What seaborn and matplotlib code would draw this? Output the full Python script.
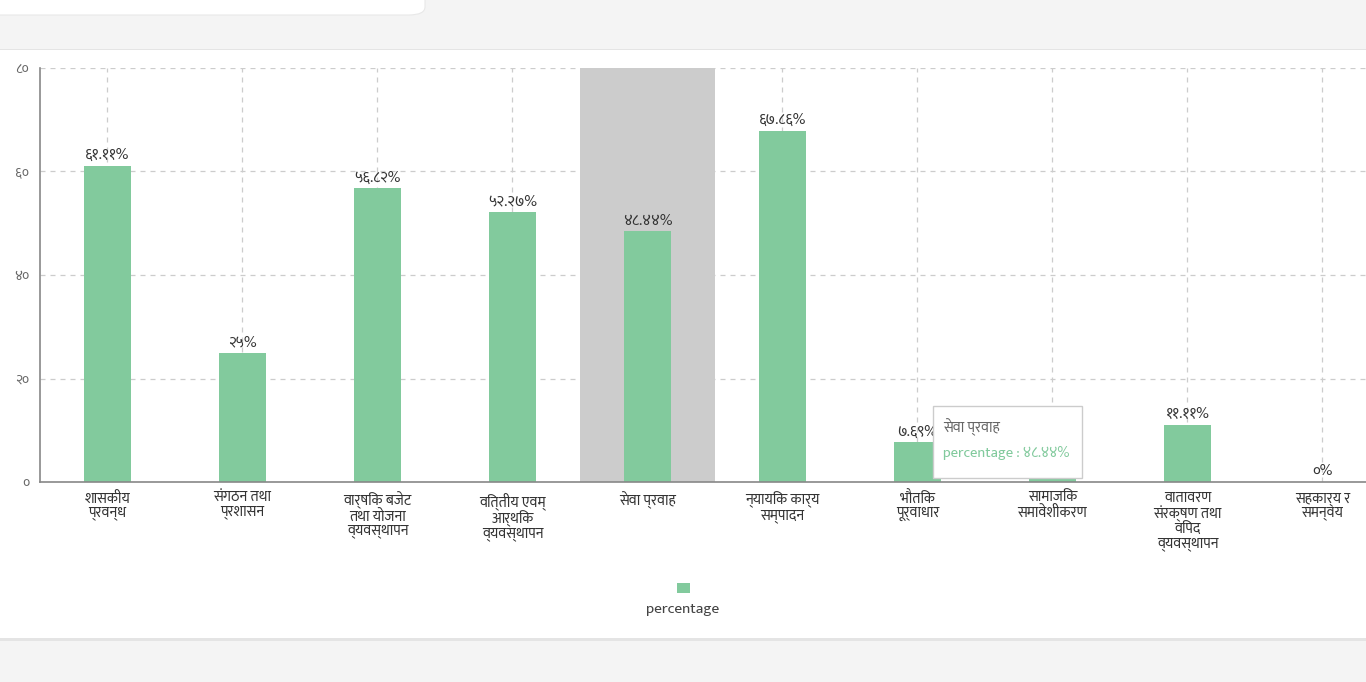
import matplotlib
matplotlib.use("Agg")
import matplotlib.pyplot as plt
from matplotlib import font_manager as fm
from matplotlib.patches import Rectangle, FancyBboxPatch
import seaborn as sns
import pandas as pd

# डाटा
categories = [
    "शासकीय प्रवन्ध", "संगठन तथा प्रशासन", "वार्षिक बजेट तथा योजना व्यवस्थापन",
    "वित्तीय एवम् आर्थिक व्यवस्थापन", "सेवा प्रवाह", "न्यायिक कार्य सम्पादन",
    "भौतिक पूर्वाधार", "सामाजिक समावेशीकरण", "वातावरण संरक्षण तथा विपद व्यवस्थापन",
    "सहकार्य र समन्वय",
]
tick_labels = [
    "शासकीय\nप्रवन्ध", "संगठन तथा\nप्रशासन", "वार्षिक बजेट\nतथा योजना\nव्यवस्थापन",
    "वित्तीय एवम्\nआर्थिक\nव्यवस्थापन", "सेवा प्रवाह", "न्यायिक कार्य\nसम्पादन",
    "भौतिक\nपूर्वाधार", "सामाजिक\nसमावेशीकरण", "वातावरण\nसंरक्षण तथा\nविपद\nव्यवस्थापन",
    "सहकार्य र\nसमन्वय",
]
percentage = [61.11, 25, 56.82, 52.27, 48.44, 67.86, 7.69, 0.6, 11.11, 0]
y_ticks = [0, 20, 40, 60, 80]
active = "सेवा प्रवाह"

df = pd.DataFrame({"category": categories, "percentage": percentage})

DEV = str.maketrans("0123456789", "०१२३४५६७८९")
def dev(v):
    return f"{v:g}".translate(DEV)

sns.set_theme(style="white")
installed = {f.name for f in fm.fontManager.ttflist}
fams = [f for f in ["Mukta", "Hind", "Noto Sans Devanagari", "Poppins"] if f in installed][:1]
plt.rcParams["font.family"] = fams + ["Open Sans", "DejaVu Sans"]

W, H = 1366, 682
fig = plt.figure(figsize=(W / 100, H / 100), dpi=100, facecolor="#f4f4f4")

# पृष्ठभूमि कार्डहरू
fig.patches.append(Rectangle((0, (H - 641) / H), 1, 592 / H, transform=fig.transFigure,
                             facecolor="#e4e4e4", edgecolor="none", zorder=-3))
fig.patches.append(Rectangle((0, (H - 638) / H), 1, 588 / H, transform=fig.transFigure,
                             facecolor="white", edgecolor="none", zorder=-2))
fig.patches.append(FancyBboxPatch((-20 / W, (H - 15) / H), 445 / W, 40 / H,
                                  boxstyle="round,pad=0,rounding_size=0.012",
                                  transform=fig.transFigure, facecolor="white",
                                  edgecolor="#e8e8e8", lw=0.8, zorder=-2))

x0, x1, ytop, ybot = 40, 1390, 68, 482
ax = fig.add_axes([x0 / W, (H - ybot) / H, (x1 - x0) / W, (ybot - ytop) / H])
ax.set_zorder(1)
ax.set_facecolor("none")

# कर्सर हाइलाइट
ai = categories.index(active)
ax.axvspan(ai - 0.5, ai + 0.5, color="#cccccc", zorder=1, lw=0)

sns.barplot(data=df, x="category", y="percentage", color="#82ca9d", saturation=1,
            width=0.35, ax=ax, zorder=2, edgecolor="none")

for i, v in enumerate(percentage):
    ax.text(i, v + 0.7, dev(v) + "%", ha="center", va="bottom", fontsize=11,
            color="#333333", zorder=3)

ax.set_xlim(-0.5, len(categories) - 0.5)
ax.set_ylim(0, 80)
ax.set_yticks(y_ticks)
ax.set_yticklabels([dev(t) for t in y_ticks], color="#666666", fontsize=10)
ax.set_xticks(range(len(categories)))
ax.set_xticklabels(tick_labels, color="#333333", fontsize=10.5, linespacing=1.05)
ax.set_xlabel("")
ax.set_ylabel("")

ax.grid(True, linestyle=(0, (4, 4)), color="#cccccc", lw=0.9, zorder=0)
ax.set_axisbelow(True)
for s in ["top", "right"]:
    ax.spines[s].set_visible(False)
for s in ["left", "bottom"]:
    ax.spines[s].set_color("#888888")
    ax.spines[s].set_linewidth(1.2)
ax.tick_params(axis="both", length=5, width=1, color="#888888", pad=2)
ax.tick_params(axis="y", pad=3)

# टूलटिप
tx, ty, tw, th = 933, 406, 149, 72
fig.patches.append(Rectangle((tx / W, (H - ty - th) / H), tw / W, th / H,
                             transform=fig.transFigure, facecolor="white",
                             edgecolor="#cccccc", lw=1, zorder=5))
fig.text((tx + 10) / W, (H - 427) / H, active, fontsize=10.5, color="#666666",
         va="center", zorder=6)
fig.text((tx + 10) / W, (H - 453) / H, "percentage : " + dev(percentage[ai]) + "%",
         fontsize=10.5, color="#82ca9d", va="center", zorder=6)

# लेजेन्ड
fig.patches.append(Rectangle((677 / W, (H - 593) / H), 13 / W, 10 / H,
                             transform=fig.transFigure, facecolor="#82ca9d",
                             edgecolor="none", zorder=5))
fig.text(683 / W, (H - 609) / H, "percentage", ha="center", va="center",
         fontsize=11, color="#444444")

fig.savefig("out.png", dpi=100, facecolor=fig.get_facecolor())
